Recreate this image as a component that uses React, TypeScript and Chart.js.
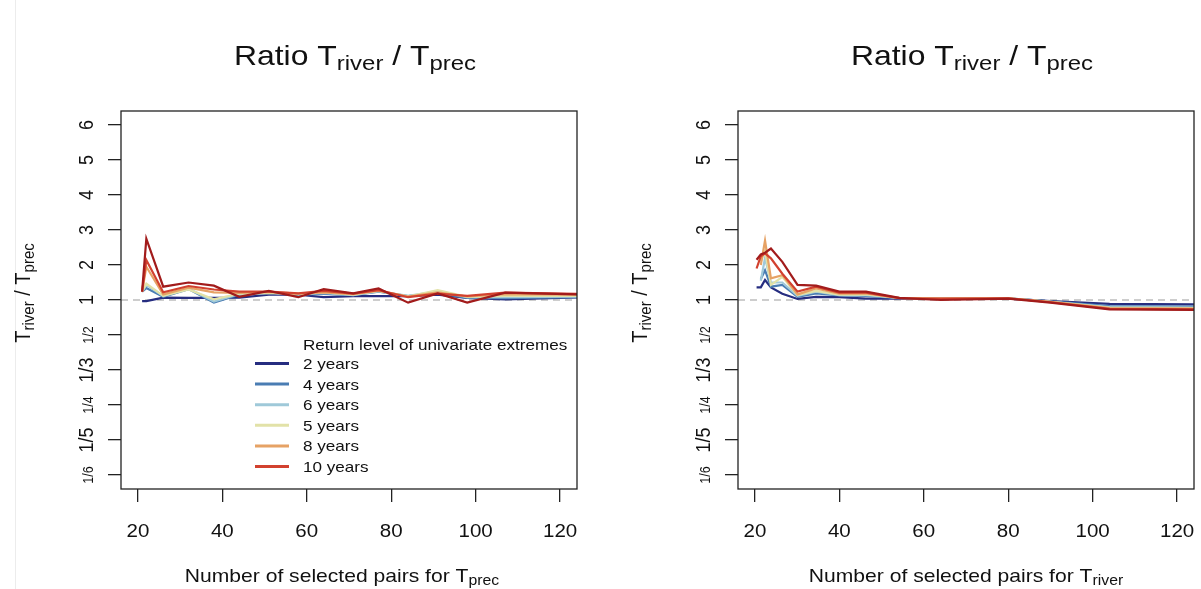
import React, { useEffect, useRef } from "react";
import { Chart, registerables } from "chart.js";
Chart.register(...registerables);

const FONT = '"Liberation Sans", Arial, Helvetica, sans-serif';
const SX = 1.14; // horizontal stretch of the original figure's text

const X_TICKS = [20, 40, 60, 80, 100, 120];
const Y_TICK_RATIOS = [1 / 6, 1 / 5, 1 / 4, 1 / 3, 1 / 2, 1, 2, 3, 4, 5, 6];
const Y_TICK_LABELS = ["1/6", "1/5", "1/4", "1/3", "1/2", "1", "2", "3", "4", "5", "6"];
const Y_TICK_SMALL = [true, false, true, false, true, false, false, false, false, false, false];

const SERIES_NAMES = ["2 years", "4 years", "6 years", "5 years", "8 years", "10 years", ""];
const SERIES_COLORS = ["#262D80", "#4A7DB3", "#9FC9D9", "#E2E2A8", "#E6A265", "#D2412F", "#A21B1B"];
const LEGEND_TITLE = "Return level of univariate extremes";

// Left panel: x = number of selected pairs for T_prec, values = ratio T_river / T_prec
const LEFT_X = [21, 22, 26, 32, 38, 44, 51, 58, 64, 71, 77, 84, 91, 98, 107, 125];
const LEFT_2Y = [0.97, 0.97, 1.07, 1.06, 1.06, 1.07, 1.15, 1.15, 1.08, 1.11, 1.11, 1.11, 1.15, 1.06, 1.02, 1.08];
const LEFT_4Y = [1.24, 1.34, 1.09, 1.31, 0.93, 1.15, 1.2, 1.15, 1.18, 1.14, 1.24, 1.11, 1.2, 1.06, 1.05, 1.08];
const LEFT_6Y = [1.24, 1.43, 1.11, 1.33, 0.96, 1.17, 1.2, 1.16, 1.2, 1.14, 1.25, 1.12, 1.25, 1.08, 1.08, 1.1];
const LEFT_5Y = [1.24, 1.47, 1.12, 1.3, 1.02, 1.18, 1.2, 1.17, 1.22, 1.15, 1.26, 1.1, 1.28, 1.09, 1.12, 1.12];
const LEFT_8Y = [1.24, 1.95, 1.16, 1.35, 1.22, 1.2, 1.23, 1.18, 1.22, 1.17, 1.27, 1.1, 1.22, 1.1, 1.17, 1.15];
const LEFT_10Y = [1.24, 2.14, 1.22, 1.4, 1.3, 1.24, 1.24, 1.19, 1.26, 1.18, 1.28, 1.08, 1.18, 1.12, 1.21, 1.17];
const LEFT_DARK = [1.24, 2.75, 1.38, 1.5, 1.41, 1.09, 1.26, 1.08, 1.31, 1.19, 1.33, 0.93, 1.19, 0.93, 1.21, 1.16];

// Right panel: x = number of selected pairs for T_river
const RIGHT_X = [20.4, 21.4, 22.4, 23.8, 26.5, 30.1, 34.5, 40, 46.3, 54.2, 64, 80, 90, 104, 125];
const RIGHT_2Y = [1.36, 1.36, 1.57, 1.36, 1.18, 1.03, 1.09, 1.08, 1.04, 1.04, 1.04, 1.04, 0.97, 0.9, 0.89];
const RIGHT_4Y = [null, 1.6, 1.85, 1.38, 1.43, 1.09, 1.19, 1.13, 1.12, 1.05, 1.05, 1.05, 0.96, 0.85, 0.84];
const RIGHT_6Y = [null, 1.55, 2.2, 1.5, 1.5, 1.12, 1.24, 1.14, 1.14, 1.06, 1.05, 1.05, 0.95, 0.83, 0.82];
const RIGHT_5Y = [null, 2.1, 2.4, 1.43, 1.66, 1.14, 1.26, 1.15, 1.16, 1.06, 1.05, 1.05, 0.95, 0.82, 0.81];
const RIGHT_8Y = [null, 2.0, 2.7, 1.62, 1.71, 1.16, 1.33, 1.18, 1.19, 1.06, 1.04, 1.05, 0.95, 0.81, 0.8];
const RIGHT_10Y = [1.9, 2.25, 2.33, 2.19, 1.75, 1.24, 1.38, 1.21, 1.21, 1.05, 1.04, 1.05, 0.94, 0.8, 0.79];
const RIGHT_DARK = [2.15, 2.3, 2.35, 2.47, 2.09, 1.43, 1.41, 1.24, 1.24, 1.06, 1.0, 1.04, 0.93, 0.79, 0.78];

const LEFT_SERIES = [LEFT_2Y, LEFT_4Y, LEFT_6Y, LEFT_5Y, LEFT_8Y, LEFT_10Y, LEFT_DARK];
const RIGHT_SERIES = [RIGHT_2Y, RIGHT_4Y, RIGHT_6Y, RIGHT_5Y, RIGHT_8Y, RIGHT_10Y, RIGHT_DARK];

// ratio -> symmetric position (…, 1/3 -> -2, 1/2 -> -1, 1 -> 0, 2 -> 1, 3 -> 2, …)
const toPos = (r: number | null) => (r == null ? null : r >= 1 ? r - 1 : 1 - 1 / r);

type Part = { t: string; sub?: boolean };

function drawRich(
  ctx: CanvasRenderingContext2D,
  parts: Part[],
  size: number,
  x: number,
  y: number,
  align: "center" | "left",
  rotate = false
) {
  ctx.save();
  ctx.translate(x, y);
  ctx.scale(SX, 1);
  if (rotate) ctx.rotate(-Math.PI / 2);
  ctx.fillStyle = "#111";
  ctx.textBaseline = "alphabetic";
  ctx.textAlign = "left";
  const sub = size * 0.75;
  const widths = parts.map((p) => {
    ctx.font = `${p.sub ? sub : size}px ${FONT}`;
    return ctx.measureText(p.t).width;
  });
  const total = widths.reduce((a, b) => a + b, 0);
  let cx = align === "center" ? -total / 2 : 0;
  parts.forEach((p, i) => {
    ctx.font = `${p.sub ? sub : size}px ${FONT}`;
    ctx.fillText(p.t, cx, p.sub ? size * 0.17 : 0);
    cx += widths[i];
  });
  ctx.restore();
}

type PanelProps = {
  left: number;
  width: number;
  xs: number[];
  series: (number | null)[][];
  xSub: string;
  xTitleShift: number;
  legend: boolean;
};

function Panel({ left, width, xs, series, xSub, xTitleShift, legend }: PanelProps) {
  const ref = useRef<HTMLCanvasElement>(null);
  useEffect(() => {
    const PLOT_LEFT = 121;
    const PLOT_RIGHT = 577;
    const overlay = {
      id: "rstyle",
      beforeDatasetsDraw(chart: any) {
        const { ctx, chartArea: a, scales } = chart;
        const y1 = scales.y.getPixelForValue(0);
        ctx.save();
        ctx.strokeStyle = "#BDBDBD";
        ctx.lineWidth = 1.6;
        ctx.setLineDash([7, 5]);
        ctx.beginPath();
        ctx.moveTo(a.left, y1);
        ctx.lineTo(a.right, y1);
        ctx.stroke();
        ctx.restore();
      },
      afterDraw(chart: any) {
        const { ctx, chartArea: a, scales } = chart;
        ctx.save();
        ctx.strokeStyle = "#222";
        ctx.lineWidth = 1.3;
        ctx.strokeRect(a.left, a.top, a.right - a.left, a.bottom - a.top);
        ctx.restore();
        const cx = (a.left + a.right) / 2;
        // title
        drawRich(ctx, [{ t: "Ratio T" }, { t: "river", sub: true }, { t: " / T" }, { t: "prec", sub: true }], 28, cx + 6, 65, "center");
        // x tick labels
        X_TICKS.forEach((v) => {
          drawRich(ctx, [{ t: String(v) }], 18, scales.x.getPixelForValue(v), 537, "center");
        });
        // y tick labels (rotated)
        Y_TICK_RATIOS.forEach((r, i) => {
          const py = scales.y.getPixelForValue(toPos(r));
          drawRich(ctx, [{ t: Y_TICK_LABELS[i] }], Y_TICK_SMALL[i] ? 12.5 : 18, 93, py, "center", true);
        });
        // axis titles
        drawRich(ctx, [{ t: "Number of selected pairs for T" }, { t: xSub, sub: true }], 18.5, cx + xTitleShift, 582, "center");
        drawRich(ctx, [{ t: "T" }, { t: "river", sub: true }, { t: " / T" }, { t: "prec", sub: true }], 20, 30, 293, "center", true);
        // legend
        if (legend) {
          drawRich(ctx, [{ t: LEGEND_TITLE }], 15, 303, 350, "left");
          SERIES_NAMES.forEach((name, i) => {
            if (!name) return;
            const yc = 363.5 + 20.6 * i;
            ctx.save();
            ctx.strokeStyle = SERIES_COLORS[i];
            ctx.lineWidth = 3;
            ctx.beginPath();
            ctx.moveTo(255, yc);
            ctx.lineTo(289, yc);
            ctx.stroke();
            ctx.restore();
            drawRich(ctx, [{ t: name }], 15, 303, yc + 5.4, "left");
          });
        }
      },
    };

    const gridOpts = {
      display: true,
      drawOnChartArea: false,
      drawTicks: true,
      tickLength: 13,
      color: "#222",
      lineWidth: 1.3,
    };

    const chart = new Chart(ref.current as HTMLCanvasElement, {
      type: "line",
      data: {
        datasets: series.map((vals, i) => ({
          label: SERIES_NAMES[i] || "series " + (i + 1),
          data: xs.map((x, j) => ({ x, y: toPos(vals[j]) })),
          borderColor: SERIES_COLORS[i],
          backgroundColor: SERIES_COLORS[i],
          borderWidth: 2.2,
          pointRadius: 0,
          tension: 0,
          spanGaps: false,
          order: series.length - i,
        })),
      },
      options: {
        animation: false,
        responsive: false,
        devicePixelRatio: 1,
        layout: { padding: { left: 0, top: 111, right: width - PLOT_RIGHT, bottom: 0 } },
        plugins: { legend: { display: false }, tooltip: { enabled: false }, title: { display: false } },
        scales: {
          x: {
            type: "linear",
            min: 16,
            max: 124,
            afterBuildTicks: (s: any) => {
              s.ticks = X_TICKS.map((v) => ({ value: v }));
            },
            afterFit: (s: any) => {
              s.height = 100;
            },
            ticks: { display: false },
            grid: gridOpts,
            border: { display: false },
          },
          y: {
            type: "linear",
            min: -5.4,
            max: 5.4,
            afterBuildTicks: (s: any) => {
              s.ticks = Y_TICK_RATIOS.map((r) => ({ value: toPos(r) as number }));
            },
            afterFit: (s: any) => {
              s.width = PLOT_LEFT;
            },
            ticks: { display: false },
            grid: gridOpts,
            border: { display: false },
          },
        },
      } as any,
      plugins: [overlay],
    });
    return () => chart.destroy();
  }, []);
  return (
    <canvas
      ref={ref}
      width={width}
      height={589}
      style={{ position: "absolute", left, top: 0, width, height: 589 }}
    />
  );
}

export default function App() {
  return (
    <div
      style={{
        position: "fixed",
        left: 0,
        top: 0,
        width: 1201,
        height: 589,
        background: "#fff",
        overflow: "hidden",
      }}
    >
      <div style={{ position: "absolute", left: 15, top: 0, width: 1, height: 589, background: "#ececec" }} />
      <Panel left={0} width={617} xs={LEFT_X} series={LEFT_SERIES} xSub="prec" xTitleShift={-7} legend={true} />
      <Panel left={617} width={584} xs={RIGHT_X} series={RIGHT_SERIES} xSub="river" xTitleShift={0} legend={false} />
    </div>
  );
}
